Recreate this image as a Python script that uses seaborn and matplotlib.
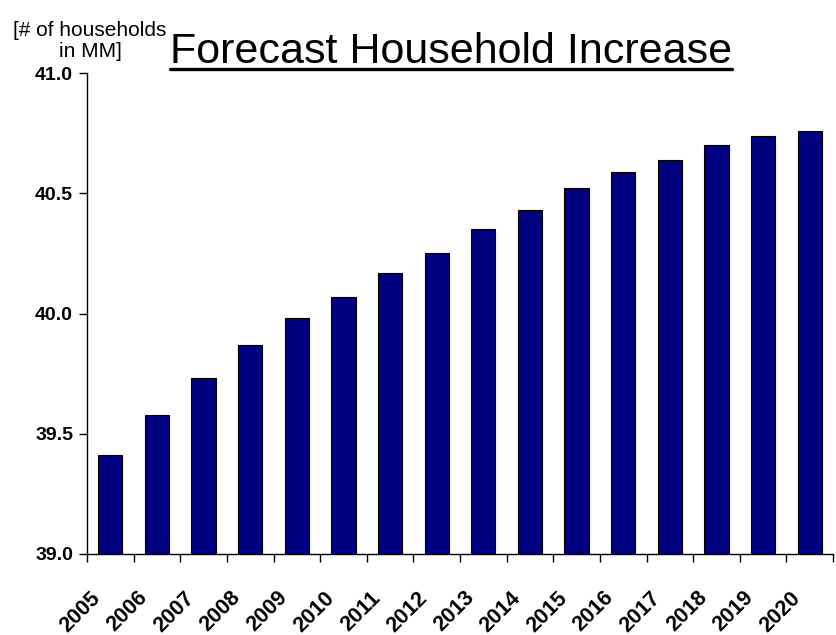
import matplotlib
matplotlib.use("Agg")
import matplotlib.pyplot as plt
import matplotlib.transforms as mtransforms
import seaborn as sns
import pandas as pd
import numpy as np
from matplotlib.lines import Line2D

years = ["2005", "2006", "2007", "2008", "2009", "2010", "2011", "2012",
         "2013", "2014", "2015", "2016", "2017", "2018", "2019", "2020"]
households = [39.41, 39.58, 39.73, 39.87, 39.98, 40.07, 40.17, 40.25,
              40.35, 40.43, 40.52, 40.59, 40.64, 40.70, 40.74, 40.76]
y_ticks = [39.0, 39.5, 40.0, 40.5, 41.0]

sns.set_theme(style="white")
plt.rcParams['font.family'] = ['Liberation Sans', 'DejaVu Sans']
plt.rcParams['text.color'] = 'black'
plt.rcParams['xtick.color'] = 'black'
plt.rcParams['ytick.color'] = 'black'

df = pd.DataFrame({"year": years, "households": households})

fig = plt.figure(figsize=(8.36, 6.35), dpi=100)
ax = fig.add_axes([87/836, 81/635, 746/836, 481/635])

sns.barplot(data=df, x="year", y="households", color="#000080",
            width=0.52, edgecolor="black", linewidth=0.8, saturation=1,
            ax=ax)

ax.set_ylim(39.0, 41.0)
ax.set_xlim(-0.5, len(years) - 0.5)
ax.set_yticks(y_ticks)
ax.set_yticklabels([f"{v:.1f}" for v in y_ticks], fontsize=14, fontweight="bold")

ax.tick_params(axis="x", which="major", length=6, width=1, color="black",
               direction="out", bottom=True)
ax.tick_params(axis="x", which="minor", length=0, pad=24)
ax.tick_params(axis="y", length=6, width=1, color="black", direction="out",
               left=True, pad=4)

# tick marks at category boundaries, labels at centers
ax.set_xticks(np.arange(-0.5, len(years)), labels=[""] * (len(years) + 1))
ax.set_xticks(np.arange(len(years)), minor=True)
ax.set_xticklabels(years, minor=True, rotation=45, ha="right",
                   rotation_mode="anchor", fontsize=15.5, fontweight="bold")
shift = mtransforms.ScaledTranslation(-20/100, 0, fig.dpi_scale_trans)
for lbl in ax.get_xticklabels(minor=True):
    lbl.set_transform(lbl.get_transform() + shift)

for s in ["top", "right"]:
    ax.spines[s].set_visible(False)
for s in ["left", "bottom"]:
    ax.spines[s].set_color("black")
    ax.spines[s].set_linewidth(1)

ax.set_xlabel("")
ax.set_ylabel("")

fig.text(90/836, 1 - 41/635, "[# of households\nin MM]", ha="center",
         va="center", fontsize=15, linespacing=1.15)

title = fig.text(451/836, 1 - 63/635, "Forecast Household Increase",
                 ha="center", va="baseline", fontsize=31)
fig.canvas.draw()
bb = title.get_window_extent(renderer=fig.canvas.get_renderer())
uy = (635 - 69) / 635
fig.add_artist(Line2D([bb.x0 / 836, bb.x1 / 836], [uy, uy],
                      transform=fig.transFigure, color="black", lw=2.4))

fig.savefig("out.png", dpi=100)
